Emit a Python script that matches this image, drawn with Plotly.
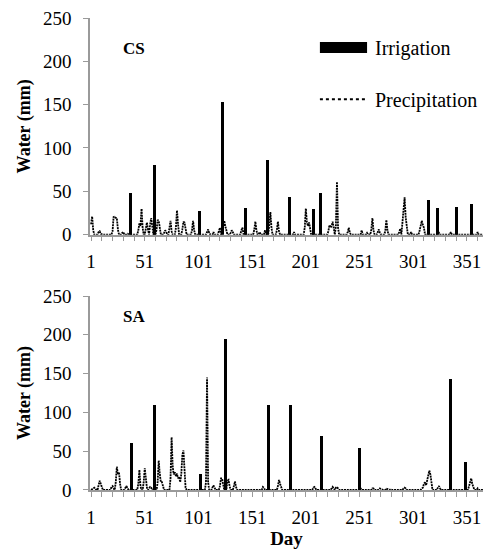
import plotly.graph_objects as go

# ---------------- data ----------------
days = list(range(1, 367))
tick_days = [1, 51, 101, 151, 201, 251, 301, 351]
y_ticks = [0, 50, 100, 150, 200, 250]

# CS panel
cs_irr_days = [38, 60, 102, 123, 145, 165, 186, 208, 215, 315, 324, 341, 355]
cs_irr_mm = [48, 80, 27, 153, 31, 86, 43, 30, 48, 40, 31, 32, 35]

cs_rain_days = [1, 2, 3, 8, 9, 10,
                21, 22, 23, 24, 25, 26, 30, 31, 35,
                45, 46, 47, 48, 49, 52, 53, 54, 56, 57, 58,
                62, 63, 64, 65, 69, 70, 71, 74, 75, 76,
                80, 81, 82, 86, 87, 88, 89, 95, 96, 97,
                109, 110, 111, 115, 120, 121, 124, 125, 126, 127,
                131, 132, 133, 141, 142, 153, 154, 155, 158,
                163, 167, 168, 169, 174, 175, 176, 190,
                200, 201, 202, 203, 204, 205,
                222, 223, 224, 225, 226, 227, 229, 230, 231,
                240, 241, 242, 253, 258, 262, 263, 264, 268, 269, 270,
                275, 276, 277, 288, 289, 291, 292, 293, 294, 295, 299,
                307, 308, 309, 310, 311, 325, 336, 361]
cs_rain_mm = [12, 21, 5, 3, 4, 1,
              4, 21, 20, 19, 19, 6, 2, 3, 1,
              5, 13, 10, 30, 8, 8, 14, 6, 12, 19, 10,
              6, 17, 16, 5, 2, 5, 3, 6, 16, 4,
              8, 28, 12, 6, 15, 14, 4, 5, 16, 5,
              3, 6, 2, 3, 4, 8, 8, 16, 10, 3,
              2, 5, 3, 5, 8, 6, 15, 5, 3,
              5, 12, 26, 8, 5, 15, 4, 3,
              8, 30, 14, 10, 14, 5,
              4, 11, 8, 10, 15, 5, 10, 61, 8,
              3, 8, 2, 5, 2, 6, 19, 5, 3, 6, 2,
              4, 17, 5, 3, 7, 15, 38, 43, 20, 5, 3,
              5, 10, 16, 11, 8, 2, 3, 3]

# SA panel
sa_irr_days = [39, 60, 103, 126, 166, 187, 216, 251, 336, 350]
sa_irr_mm = [60, 110, 20, 195, 110, 110, 69, 54, 143, 36]

sa_rain_days = [2, 3, 4, 5, 8, 9, 10, 11,
                20, 21, 22, 24, 25, 26, 27, 28, 33, 34, 35,
                45, 46, 47, 50, 51, 52, 53, 55, 56, 57,
                63, 64, 65, 66, 67, 68,
                75, 76, 77, 78, 79, 80, 81, 82, 83, 84, 85, 86, 87, 88, 89,
                108, 109, 110, 114, 115, 116, 121, 122, 123, 124,
                128, 129, 130, 134, 135, 136, 161, 162,
                175, 176, 177, 178, 208, 209, 210,
                225, 226, 227, 229, 230, 231, 252,
                263, 264, 270, 271, 276, 277, 280, 292, 293, 294,
                309, 310, 311, 312, 313, 314, 315, 316, 317, 318,
                324, 325, 326, 353, 354, 355, 356, 357, 361]
sa_rain_mm = [1, 2, 3, 2, 6, 12, 8, 2,
              4, 5, 2, 10, 30, 20, 23, 8, 3, 5, 2,
              8, 26, 5, 10, 28, 15, 3, 3, 4, 3,
              10, 38, 20, 10, 10, 4,
              15, 68, 30, 20, 23, 18, 21, 15, 17, 10, 20, 45, 51, 15, 3,
              10, 145, 10, 3, 6, 3, 5, 15, 15, 8,
              12, 13, 5, 5, 11, 4, 4, 3,
              5, 13, 8, 2, 3, 4, 2,
              2, 4, 2, 3, 4, 2, 2,
              2, 2, 2, 1, 2, 1, 1, 2, 3, 2,
              2, 3, 8, 10, 6, 12, 18, 25, 20, 8,
              3, 5, 2, 5, 10, 15, 8, 3, 2]


def daily(rain_days, rain_mm):
    lookup = dict(zip(rain_days, rain_mm))
    return [lookup.get(d, 0) for d in days]


FONT = "Liberation Serif"
GRAY = "#9a9a9a"

fig = go.Figure()

panels = [
    ("x", "y", cs_irr_days, cs_irr_mm, cs_rain_days, cs_rain_mm),
    ("x2", "y2", sa_irr_days, sa_irr_mm, sa_rain_days, sa_rain_mm),
]
for xa, ya, idays, imm, rdays, rmm in panels:
    fig.add_trace(go.Scatter(
        x=days, y=daily(rdays, rmm), mode="lines", xaxis=xa, yaxis=ya,
        line=dict(color="black", width=1.8, dash="2px,0.8px"),
        name="Precipitation", showlegend=False, hoverinfo="skip"))
    fig.add_trace(go.Bar(
        x=idays, y=imm, xaxis=xa, yaxis=ya, width=2.8,
        marker=dict(color="black", line=dict(width=0)),
        name="Irrigation", showlegend=False))

tickfont = dict(family=FONT, size=19, color="black")
minor = dict(tickvals=list(range(1, 366, 10)), ticks="outside", ticklen=5,
             tickcolor=GRAY, tickwidth=1)
xcommon = dict(range=[0, 366], tickmode="array", tickvals=tick_days,
               ticktext=[str(t) for t in tick_days], ticks="outside",
               ticklen=5, tickcolor=GRAY, showline=True, linecolor=GRAY,
               linewidth=1.5, showgrid=False, zeroline=False,
               tickfont=tickfont, minor=minor, ticklabelstandoff=4,
               automargin=False)
ycommon = dict(range=[0, 250], tickmode="array", tickvals=y_ticks,
               ticks="outside", ticklen=5, tickcolor=GRAY, showline=True,
               linecolor=GRAY, linewidth=1.5, showgrid=False, zeroline=False,
               tickfont=tickfont, ticklabelstandoff=8, automargin=False,
               title=dict(text="<b>Water (mm)</b>",
                          font=dict(family=FONT, size=18, color="black"),
                          standoff=8))

fig.update_layout(
    width=485, height=554,
    margin=dict(l=90, r=2, t=18, b=64, autoexpand=False),
    paper_bgcolor="white", plot_bgcolor="white",
    font=dict(family=FONT, color="black"),
    showlegend=False, bargap=0,
    xaxis=dict(domain=[0, 1], anchor="y", **xcommon),
    yaxis=dict(domain=[0.541, 1], anchor="x", **ycommon),
    xaxis2=dict(domain=[0, 1], anchor="y2",
                title=dict(text="<b>Day</b>",
                           font=dict(family=FONT, size=19, color="black"),
                           standoff=2),
                **xcommon),
    yaxis2=dict(domain=[0, 0.411], anchor="x2", **ycommon),
)

# panel labels
for txt, yp in [("CS", 0.96), ("SA", 0.367)]:
    fig.add_annotation(text=f"<b>{txt}</b>", xref="paper", yref="paper",
                       x=0.079, y=yp, showarrow=False,
                       font=dict(family=FONT, size=17, color="black"))

# legend (drawn manually to match the wide swatches)
fig.add_shape(type="rect", xref="paper", yref="paper",
              x0=0.585, x1=0.705, y0=0.926, y1=0.949,
              fillcolor="black", line=dict(width=0))
fig.add_shape(type="line", xref="paper", yref="paper",
              x0=0.585, x1=0.70, y0=0.828, y1=0.828,
              line=dict(color="black", width=2, dash="dot"))
fig.add_annotation(text="Irrigation", xref="paper", yref="paper",
                   x=0.72, y=0.936, xanchor="left", yanchor="middle",
                   showarrow=False,
                   font=dict(family=FONT, size=20, color="black"))
fig.add_annotation(text="Precipitation", xref="paper", yref="paper",
                   x=0.72, y=0.826, xanchor="left", yanchor="middle",
                   showarrow=False,
                   font=dict(family=FONT, size=20, color="black"))

fig.write_html(
    "out.html",
    config={"displayModeBar": False},
    post_script="document.body.style.margin='0';"
                "document.body.style.overflow='hidden';",
)
